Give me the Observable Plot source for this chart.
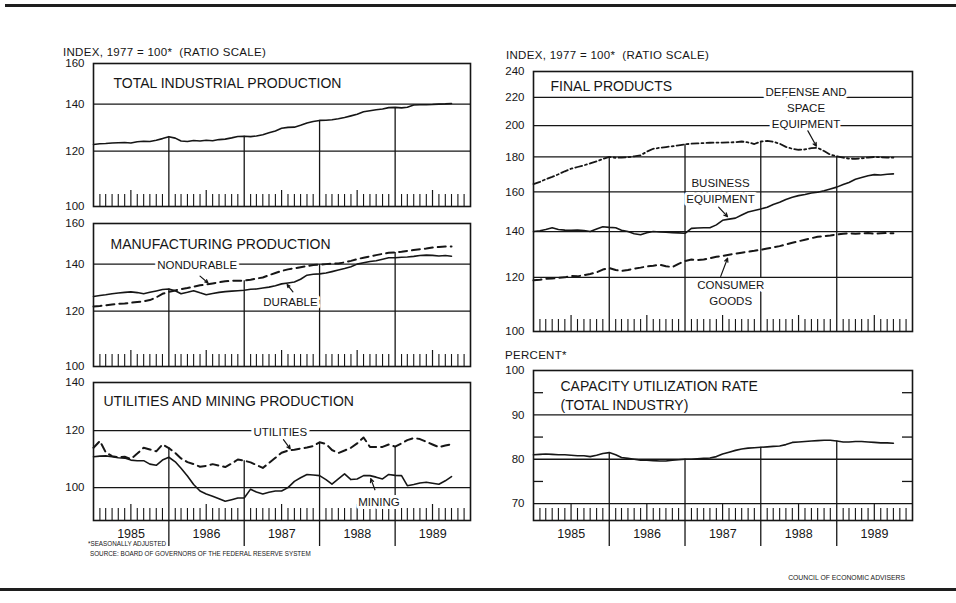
<!DOCTYPE html>
<html><head><meta charset="utf-8">
<script src="https://cdn.jsdelivr.net/npm/d3@7"></script>
<script src="https://cdn.jsdelivr.net/npm/@observablehq/plot@0.6"></script>
<style>
html,body{margin:0;padding:0;background:#fff;}
#root{position:relative;width:956px;height:603px;overflow:hidden;background:#fff;font-family:"Liberation Sans",Arial,sans-serif;color:#161616;}
.hdr{position:absolute;font-size:11.5px;line-height:12px;white-space:pre;letter-spacing:0.3px;}
.note{position:absolute;font-size:6.3px;line-height:7px;white-space:nowrap;}
.rule{position:absolute;background:#1e1e1e;}
</style></head><body><div id="root"></div>
<script>
// ---------- data (monthly, Jan 1985 .. Oct 1989) ----------
const firstMonth = "1985-01-01";
const monthCount = 58;
const yearLabels = ["1985", "1986", "1987", "1988", "1989"];

const totalIP = [
  122.6,122.9,123.0,123.2,123.3,123.4,123.2,123.7,123.9,123.8,124.3,125.0,
  125.8,125.2,124.0,123.8,124.2,124.0,124.3,124.1,124.6,124.8,125.3,125.9,
  126.0,125.8,126.1,126.6,127.4,128.2,129.3,129.7,129.8,130.6,131.6,132.2,
  132.7,132.8,133.0,133.4,134.0,134.7,135.4,136.5,137.0,137.4,137.8,138.4,
  138.5,138.3,138.6,139.6,139.7,139.7,139.8,140.0,140.1,140.3];
const durable = [
  125.9,126.3,126.6,127.0,127.3,127.6,127.8,127.5,127.0,127.6,128.2,128.8,
  129.0,128.3,127.0,127.6,128.3,127.4,126.6,127.1,127.6,127.9,128.1,128.3,
  128.5,128.9,129.0,129.4,129.8,130.4,131.2,131.6,132.0,133.2,135.0,135.4,
  135.6,136.0,136.6,137.3,138.0,138.8,140.0,140.6,141.2,141.6,142.3,143.0,
  143.0,143.2,143.3,143.6,144.0,144.2,144.1,143.8,144.0,143.7];
const nondurable = [
  121.8,122.0,122.3,122.6,122.9,123.0,123.3,123.6,123.9,124.4,125.5,127.0,
  127.8,128.4,129.0,129.4,130.0,130.6,130.9,131.4,131.9,132.3,132.5,132.6,
  132.6,133.0,133.5,134.0,135.0,136.0,136.9,137.6,138.1,138.6,139.1,139.6,
  139.8,140.0,140.2,140.3,140.8,141.5,142.3,143.0,143.6,144.2,144.8,145.3,
  145.5,145.8,146.2,146.6,147.0,147.4,147.9,148.1,148.3,148.4];
const utilities = [
  113.6,116.1,112.0,110.6,110.2,110.4,109.6,111.5,113.6,113.0,112.3,114.8,
  113.5,111.7,109.8,108.5,107.8,106.9,107.2,107.8,107.3,106.8,108.0,109.4,
  109.0,108.4,107.5,106.5,108.2,110.0,111.8,112.6,112.9,113.3,113.7,114.2,
  115.6,115.0,112.8,111.7,112.6,113.6,115.2,117.4,113.9,113.9,113.9,114.8,
  114.0,115.2,116.4,117.2,116.8,115.8,114.8,113.8,114.4,114.9];
const mining = [
  110.4,110.6,110.7,110.4,110.0,109.9,109.2,109.0,109.0,107.8,107.4,109.2,
  110.2,108.6,106.4,103.8,101.0,98.9,98.0,97.3,96.5,95.7,96.2,96.7,
  96.7,99.5,98.6,98.0,98.5,98.9,98.9,100.0,102.0,103.2,104.3,104.1,
  103.9,102.6,101.1,102.8,104.5,102.6,102.8,103.9,103.9,103.4,102.8,104.3,
  104.0,103.9,100.6,101.0,101.5,101.7,101.4,101.1,102.2,103.6];
const defense = [
  164.3,165.5,167.0,168.3,169.8,171.5,173.0,174.0,175.0,176.1,177.3,178.8,
  180.0,179.5,179.6,179.8,180.4,181.0,183.2,185.0,185.6,186.1,186.6,187.2,
  187.8,188.2,188.4,188.6,188.8,188.9,188.9,189.0,189.2,189.6,189.0,188.0,
  189.6,190.0,189.4,188.2,186.2,185.0,184.4,184.6,185.4,185.6,183.6,181.4,
  180.4,179.6,179.0,178.8,179.2,179.6,180.0,179.8,179.6,179.6];
const business = [
  140.0,140.4,141.0,141.8,141.0,140.7,140.6,140.7,140.5,140.0,141.2,142.3,
  142.0,141.8,140.6,140.0,139.0,138.5,139.5,140.0,139.8,139.7,139.5,139.4,
  139.2,141.5,141.7,141.8,141.8,143.2,145.4,146.0,146.5,148.0,149.5,150.3,
  151.1,152.0,153.4,154.5,156.0,157.2,158.0,158.6,159.4,159.8,160.6,161.6,
  162.6,164.0,165.2,167.0,168.0,169.0,169.6,169.4,169.8,170.0];
const consumer = [
  118.8,119.0,119.4,119.5,119.8,120.0,120.6,120.4,120.9,121.4,122.0,123.2,
  123.8,123.0,122.6,123.0,123.6,124.0,124.5,124.8,125.2,124.6,124.2,125.6,
  126.8,127.4,127.2,127.4,128.0,128.6,129.0,129.5,130.0,130.4,130.8,131.2,
  131.7,132.2,132.7,133.3,134.0,134.8,135.5,136.2,136.9,137.6,137.9,138.2,
  138.6,139.0,139.2,139.0,139.2,139.3,139.0,139.2,139.3,139.2];
const capacity = [
  81.0,81.1,81.2,81.1,81.0,81.0,80.9,80.8,80.8,80.6,80.9,81.3,
  81.5,81.0,80.4,80.2,80.0,79.8,79.8,79.7,79.6,79.6,79.8,79.9,
  80.0,80.0,80.1,80.2,80.3,80.6,81.2,81.6,82.0,82.3,82.5,82.6,
  82.7,82.8,82.9,83.0,83.3,83.8,83.9,84.0,84.1,84.2,84.3,84.3,
  84.1,83.9,83.9,84.0,84.0,83.9,83.8,83.7,83.7,83.6];

// tick values
const indexTicks1 = [100, 120, 140, 160];
const indexGrid1 = [120, 140];
const indexTicks3 = [100, 120, 140];
const indexGrid3 = [100, 120];
const finalTicks = [100, 120, 140, 160, 180, 200, 220, 240];
const finalGrid = [120, 140, 160, 180, 200, 220];
const capTicks = [70, 80, 90, 100];
const capGrid = [70, 80, 90];
const capSideTicks = [75, 85, 95];

// titles and annotations
const titles = {
  total: ["TOTAL INDUSTRIAL PRODUCTION"],
  mfg: ["MANUFACTURING PRODUCTION"],
  util: ["UTILITIES AND MINING PRODUCTION"],
  final: ["FINAL PRODUCTS"],
  cap: ["CAPACITY UTILIZATION RATE\n(TOTAL INDUSTRY)"]
};
const mfgLabels = [
  {text: "NONDURABLE", date: "1986-05-18", value: 140},
  {text: "DURABLE", date: "1987-08-13", value: 124.2}];
const mfgArrows = [
  {d1: "1986-06-01", v1: 134.6, d2: "1986-07-10", v2: 131.6},
  {d1: "1987-08-25", v1: 127.8, d2: "1987-07-28", v2: 130.9}];
const utilLabels = [
  {text: "UTILITIES", date: "1987-06-25", value: 120},
  {text: "MINING", date: "1988-10-15", value: 95.9}];
const utilArrows = [
  {d1: "1987-07-10", v1: 116.6, d2: "1987-08-12", v2: 113.2},
  {d1: "1988-09-25", v1: 99.3, d2: "1988-09-05", v2: 102.9}];
const finalLabels = [
  {text: "DEFENSE AND\nSPACE\nEQUIPMENT", date: "1988-08-06", value: 213},
  {text: "BUSINESS\nEQUIPMENT", date: "1987-06-21", value: 161.3},
  {text: "CONSUMER\nGOODS", date: "1987-08-09", value: 114.3}];
const finalArrows = [
  {d1: "1988-08-15", v1: 196.5, d2: "1988-09-25", v2: 186.6},
  {d1: "1987-06-12", v1: 152.0, d2: "1987-07-25", v2: 147.2},
  {d1: "1987-06-22", v1: 120.4, d2: "1987-07-25", v2: 128.0}];

// ---------- build ----------
const ink = "#161616";
const font = "'Liberation Sans', Arial, sans-serif";
const parse = s => new Date(s + "T00:00:00Z");
const start = parse(firstMonth);
const months = d3.utcMonth.range(start, d3.utcMonth.offset(start, monthCount));
const xDomain = [parse("1985-01-01"), parse("1990-01-01")];
const yearStarts = yearLabels.slice(1).map(y => parse(y + "-01-01"));
const yearMids = yearLabels.map(y => parse(y + "-07-02"));
const allMonths = d3.utcMonth.range(xDomain[0], xDomain[1]);
const minorMonths = allMonths.filter(d => d.getUTCMonth() !== 0 && d.getUTCMonth() !== 6);
const julyMonths = allMonths.filter(d => d.getUTCMonth() === 6);

const rows = months.map((date, i) => ({
  date, totalIP: totalIP[i], durable: durable[i], nondurable: nondurable[i],
  utilities: utilities[i], mining: mining[i], defense: defense[i],
  business: business[i], consumer: consumer[i], capacity: capacity[i]
}));

const root = document.getElementById("root");

function panel(cfg) {
  const fh = cfg.bottom - cfg.top;
  const mT = 8, mB = cfg.years ? 34 : 8;
  const fw = cfg.width - cfg.mL - cfg.mR;
  const keys = cfg.lines.map(l => l.key);
  // year separators rise from the bottom of the frame up to the highest series
  const yearRules = yearStarts.map(d => {
    const r = rows.find(r => +r.date === +d);
    return {date: d, top: d3.max(keys, k => r[k])};
  });
  const marks = [
    Plot.ruleY(cfg.grid, {stroke: ink, strokeWidth: 1.3}),
    Plot.ruleX(yearRules, {x: "date", y1: "top", y2: cfg.yDomain[0], stroke: ink, strokeWidth: 1.3}),
    Plot.ruleX(minorMonths, {stroke: ink, strokeWidth: 1.1, insetTop: fh - 12}),
    Plot.ruleX(julyMonths, {stroke: ink, strokeWidth: 1.2, insetTop: fh - 16})
  ];
  if (cfg.sideTicks) {
    marks.push(Plot.ruleY(cfg.sideTicks, {stroke: ink, strokeWidth: 1.3, insetRight: fw - 10}));
    marks.push(Plot.ruleY(cfg.sideTicks, {stroke: ink, strokeWidth: 1.3, insetLeft: fw - 10}));
  }
  for (const l of cfg.lines) {
    marks.push(Plot.lineY(rows, {x: "date", y: l.key, stroke: ink, strokeWidth: l.w || 1.5,
      strokeDasharray: l.dash, strokeLinejoin: "round"}));
  }
  if (cfg.labels) {
    marks.push(Plot.text(cfg.labels, {x: d => parse(d.date), y: "value", text: "text",
      fill: ink, stroke: "white", strokeWidth: 6, fontSize: 11.5, lineHeight: 1.4, textAnchor: "middle"}));
  }
  if (cfg.arrows) {
    marks.push(Plot.arrow(cfg.arrows, {x1: d => parse(d.d1), y1: "v1", x2: d => parse(d.d2), y2: "v2",
      stroke: ink, strokeWidth: 1.2, headLength: 5, headAngle: 50}));
  }
  marks.push(Plot.text(cfg.title, {frameAnchor: "top-left", dx: cfg.tdx, dy: cfg.tdy, text: d => d,
    textAnchor: "start", lineAnchor: "top", fontSize: 14, lineHeight: 1.3, fill: ink}));
  marks.push(Plot.frame({stroke: ink, strokeWidth: 1.6}));
  marks.push(Plot.axisY(cfg.ticks, {anchor: "left", tickSize: 0, tickPadding: 9, fontSize: 11.5,
    tickFormat: d => String(d), label: null}));
  if (cfg.years) {
    marks.push(Plot.axisX(yearMids, {anchor: "bottom", tickSize: 0, tickPadding: 9, fontSize: 12.5,
      tickFormat: d3.utcFormat("%Y"), label: null}));
    marks.push(Plot.axisX(yearStarts, {anchor: "bottom", tickSize: 26, strokeWidth: 1.3,
      tickFormat: () => "", label: null}));
  }
  const plot = Plot.plot({
    width: cfg.width, height: fh + mT + mB,
    marginLeft: cfg.mL, marginRight: cfg.mR, marginTop: mT, marginBottom: mB,
    x: cfg.years ? {type: "utc", domain: xDomain} : {type: "utc", domain: xDomain, axis: null},
    y: {type: cfg.yType, domain: cfg.yDomain},
    style: {fontFamily: font, fontSize: "11px", color: ink, background: "transparent", overflow: "visible"},
    marks
  });
  plot.style.position = "absolute";
  plot.style.left = cfg.left + "px";
  plot.style.top = (cfg.top - mT) + "px";
  plot.style.maxWidth = "none";
  root.appendChild(plot);
}

const L = {left: 0, width: 490, mL: 93, mR: 20};
const R = {left: 490, width: 466, mL: 43, mR: 44};

panel({...L, top: 63, bottom: 206, yType: "log", yDomain: [100, 160], ticks: indexTicks1, grid: indexGrid1,
  lines: [{key: "totalIP", w: 1.6}], title: titles.total, tdx: 20, tdy: 12});
panel({...L, top: 223, bottom: 366, yType: "log", yDomain: [100, 160], ticks: indexTicks1, grid: indexGrid1,
  lines: [{key: "durable", w: 1.6}, {key: "nondurable", w: 2, dash: "8,5"}],
  labels: mfgLabels, arrows: mfgArrows, title: titles.mfg, tdx: 17, tdy: 13});
panel({...L, top: 382, bottom: 520, yType: "log", yDomain: [90, 140], ticks: indexTicks3, grid: indexGrid3,
  lines: [{key: "mining", w: 1.6}, {key: "utilities", w: 2, dash: "8,5"}],
  labels: utilLabels, arrows: utilArrows, title: titles.util, tdx: 10, tdy: 11, years: true});
panel({...R, top: 71, bottom: 331, yType: "log", yDomain: [100, 240], ticks: finalTicks, grid: finalGrid,
  lines: [{key: "business", w: 1.6}, {key: "consumer", w: 2, dash: "8,5"}, {key: "defense", w: 1.8, dash: "7,3,2,3"}],
  labels: finalLabels, arrows: finalArrows, title: titles.final, tdx: 17, tdy: 7});
panel({...R, top: 370, bottom: 520, yType: "linear", yDomain: [66.2, 100], ticks: capTicks, grid: capGrid,
  sideTicks: capSideTicks, lines: [{key: "capacity", w: 1.6}], title: titles.cap, tdx: 27, tdy: 8, years: true});

// ---------- page texts and rules ----------
function addDiv(cls, text, css) {
  const d = document.createElement("div");
  d.className = cls;
  d.textContent = text;
  Object.assign(d.style, css);
  root.appendChild(d);
}
addDiv("rule", "", {left: "5px", top: "4px", width: "951px", height: "3px"});
addDiv("rule", "", {left: "0px", top: "588px", width: "956px", height: "3px"});
addDiv("hdr", "INDEX, 1977 = 100*  (RATIO SCALE)", {left: "63px", top: "46px"});
addDiv("hdr", "INDEX, 1977 = 100*  (RATIO SCALE)", {left: "506px", top: "49px"});
addDiv("hdr", "PERCENT*", {left: "505px", top: "349px"});
addDiv("note", "*SEASONALLY ADJUSTED", {left: "88px", top: "540px"});
addDiv("note", "SOURCE: BOARD OF GOVERNORS OF THE FEDERAL RESERVE SYSTEM", {left: "90px", top: "550px"});
addDiv("note", "COUNCIL OF ECONOMIC ADVISERS", {right: "51px", top: "574px", fontSize: "6.8px"});
</script></body></html>
